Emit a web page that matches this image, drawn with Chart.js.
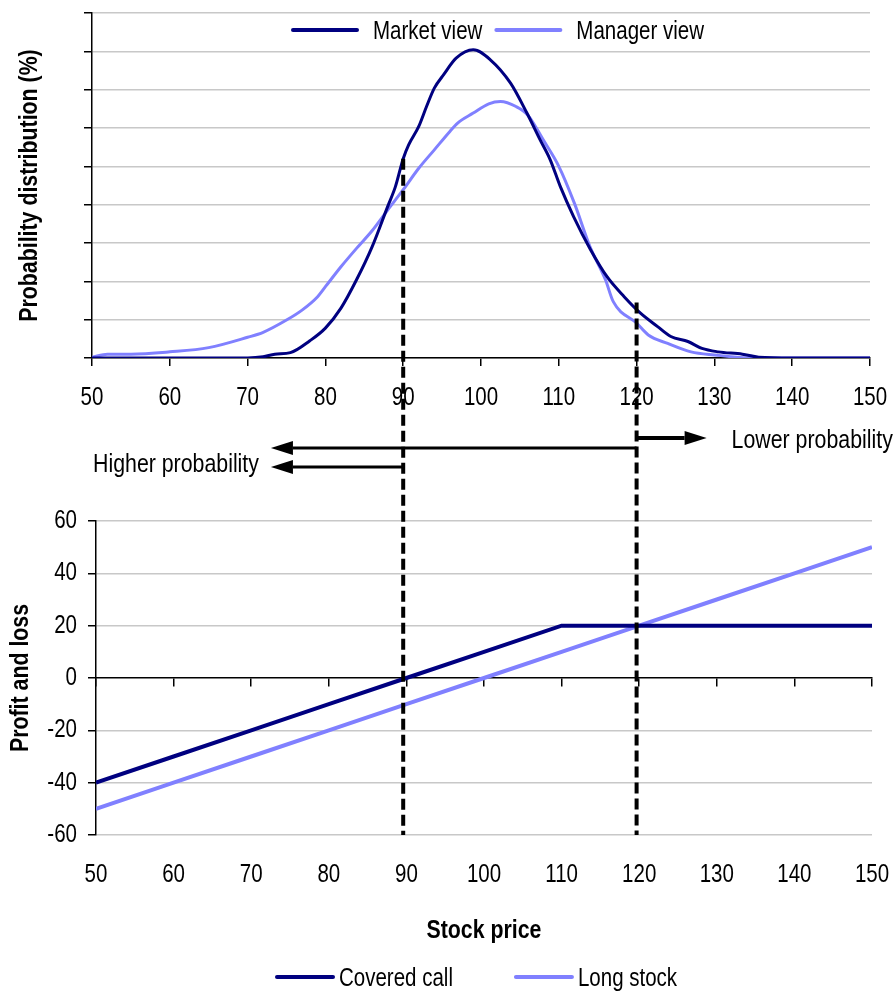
<!DOCTYPE html>
<html>
<head>
<meta charset="utf-8">
<script src="https://cdn.jsdelivr.net/npm/chart.js@4.4.0/dist/chart.umd.min.js"></script>
<style>
  body { margin: 0; background: #fff; }
  #wrap { position: relative; width: 893px; height: 991px; }
  canvas { position: absolute; left: 0; }
  #topChart { top: 0; }
  #bottomChart { top: 480px; }
  #overlay { top: 0; pointer-events: none; }
</style>
</head>
<body>
<div id="wrap">
  <canvas id="topChart" width="893" height="420"></canvas>
  <canvas id="bottomChart" width="893" height="511"></canvas>
  <canvas id="overlay" width="893" height="991"></canvas>
</div>
<script>
// probability distribution (top chart)
const marketPrice = [50, 70, 72, 73.5, 75.5, 78, 80, 82, 84, 86, 88, 89, 90, 90.7, 92, 93, 94, 95.2, 96.8, 99,
  101.2, 103.8, 105.9, 107.6, 108.9, 110.2, 111.9, 114.1, 116.2, 118.4, 120.5, 122.7, 124.4, 126.6, 128.4, 130.5, 133.6, 135.7, 140, 150];
const marketProb = [0, 0, 0.03, 0.1, 0.14, 0.45, 0.78, 1.3, 2.04, 2.9, 3.95, 4.47, 5.2, 5.56, 6.04, 6.56, 7.04, 7.39, 7.82, 8.04,
  7.78, 7.17, 6.39, 5.69, 5.17, 4.47, 3.69, 2.82, 2.12, 1.6, 1.17, 0.82, 0.56, 0.43, 0.25, 0.16, 0.1, 0.02, 0, 0];

const managerPrice = [50, 52, 55, 60, 65, 70, 72, 75, 77, 79, 80, 82, 84, 86, 88, 90, 92, 94, 96, 97,
  99, 101, 102.5, 104.5, 106, 108, 110, 112, 114, 116, 117, 120, 121.5, 124, 127, 130, 135, 150];
const managerProb = [0.02, 0.1, 0.1, 0.16, 0.27, 0.54, 0.67, 0.99, 1.25, 1.6, 1.86, 2.38, 2.86, 3.32, 3.86, 4.39, 4.95, 5.43, 5.91, 6.13,
  6.39, 6.63, 6.69, 6.56, 6.34, 5.69, 5.0, 4.04, 2.91, 2.04, 1.47, 0.91, 0.6, 0.38, 0.16, 0.08, 0, 0];

// payoff (bottom chart)
const stockPrice = [50, 60, 70, 80, 90, 100, 110, 120, 130, 140, 150];
const coveredCall = [-40, -30, -20, -10, 0, 10, 20, 20, 20, 20, 20];
const longStock = [-50, -40, -30, -20, -10, 0, 10, 20, 30, 40, 50];

// annotation anchors
const strikes = [90, 120];
const dashFrom = [5.2, 1.45];   // where the dashed lines start on the top chart
const arrowTips = { higher: 73, lower: 129 };

const SANS = '"Liberation Sans", Arial, sans-serif';
const NAVY = '#000080';
const LILAC = '#8080ff';
const K = 0.82; // the original uses a narrow face: squeeze text sideways

function condense(canvas) {
  const ctx = canvas.getContext('2d');
  const fill = ctx.fillText;
  ctx.fillText = function (text, x, y, maxWidth) {
    this.save();
    this.translate(x, y);
    this.scale(K, 1);
    if (maxWidth === undefined) fill.call(this, text, 0, 0);
    else fill.call(this, text, 0, 0, maxWidth / K);
    this.restore();
  };
  return ctx;
}

const toXY = (xs, ys) => xs.map((x, i) => ({ x: x, y: ys[i] }));

// legend drawn as a line sample + label, placed freely
const lineLegend = {
  id: 'lineLegend',
  afterDraw(chart, args, opts) {
    const ctx = chart.ctx;
    let x = opts.x;
    ctx.save();
    ctx.font = '25px ' + SANS;
    ctx.textBaseline = 'middle';
    chart.data.datasets.forEach(ds => {
      ctx.strokeStyle = ds.borderColor;
      ctx.lineWidth = 4;
      ctx.lineCap = 'round';
      ctx.beginPath();
      ctx.moveTo(x, opts.y);
      ctx.lineTo(x + opts.lineLen, opts.y);
      ctx.stroke();
      x += opts.lineLen + opts.textGap;
      ctx.fillStyle = '#000';
      ctx.fillText(ds.label, x, opts.y + 2);
      x += ctx.measureText(ds.label).width * K + opts.itemGap;
    });
    ctx.restore();
  }
};

const titleFont = { family: SANS, size: 26, weight: 'bold' };
const tickFont = { family: SANS, size: 25 };

const topCanvas = document.getElementById('topChart');
condense(topCanvas);
const topChart = new Chart(topCanvas, {
  type: 'line',
  data: {
    datasets: [
      { label: 'Market view', data: toXY(marketPrice, marketProb), borderColor: NAVY, backgroundColor: NAVY,
        borderWidth: 3, pointRadius: 0, cubicInterpolationMode: 'monotone', fill: false },
      { label: 'Manager view', data: toXY(managerPrice, managerProb), borderColor: LILAC, backgroundColor: LILAC,
        borderWidth: 3, pointRadius: 0, cubicInterpolationMode: 'monotone', fill: false }
    ]
  },
  plugins: [lineLegend],
  options: {
    responsive: false,
    animation: false,
    layout: { padding: { top: 13, right: 23, left: 0, bottom: 0 } },
    plugins: {
      legend: { display: false },
      tooltip: { enabled: false },
      lineLegend: { x: 293, y: 30, lineLen: 64, textGap: 16, itemGap: 14 }
    },
    scales: {
      x: {
        type: 'linear', min: 50, max: 150,
        ticks: { stepSize: 10, color: '#000', font: tickFont, padding: 17 },
        grid: { drawOnChartArea: false, tickLength: 8, tickColor: '#000', lineWidth: 1.5 },
        border: { color: '#000', width: 1.5 },
        afterFit: s => { s.height = 62; s.paddingLeft = 0; s.paddingRight = 0; }
      },
      y: {
        min: 0, max: 9,
        ticks: { stepSize: 1, display: false },
        grid: { color: '#c8c8c8', lineWidth: 1.5, tickLength: 8, tickColor: '#000' },
        border: { color: '#000', width: 1.5 },
        title: { display: true, text: 'Probability distribution (%)', color: '#000',
          font: titleFont, padding: { top: 14, bottom: 0 } },
        afterFit: s => { s.width = 92; s.paddingTop = 0; s.paddingBottom = 0; }
      }
    }
  }
});

const bottomCanvas = document.getElementById('bottomChart');
condense(bottomCanvas);
const bottomChart = new Chart(bottomCanvas, {
  type: 'line',
  data: {
    datasets: [
      { label: 'Covered call', data: toXY(stockPrice, coveredCall), borderColor: NAVY, backgroundColor: NAVY,
        borderWidth: 4, pointRadius: 0, tension: 0, fill: false },
      { label: 'Long stock', data: toXY(stockPrice, longStock), borderColor: LILAC, backgroundColor: LILAC,
        borderWidth: 4, pointRadius: 0, tension: 0, fill: false }
    ]
  },
  plugins: [lineLegend],
  options: {
    responsive: false,
    animation: false,
    layout: { padding: { top: 41, right: 21, left: 0, bottom: 0 } },
    plugins: {
      legend: { display: false },
      tooltip: { enabled: false },
      lineLegend: { x: 277, y: 497, lineLen: 56, textGap: 6, itemGap: 63 }
    },
    scales: {
      x: {
        type: 'linear', min: 50, max: 150,
        ticks: { stepSize: 10, color: '#000', font: tickFont, padding: 17 },
        grid: { display: false },
        border: { display: false },
        title: { display: true, text: 'Stock price', color: '#000',
          font: titleFont, padding: { top: 0, bottom: 45 } },
        afterFit: s => { s.height = 156; s.paddingLeft = 0; s.paddingRight = 0; }
      },
      x2: {
        type: 'linear', min: 50, max: 150, position: { y: 0 },
        ticks: { stepSize: 10, display: false },
        grid: { drawOnChartArea: false, tickLength: 8, tickColor: '#000', lineWidth: 1.5 },
        border: { color: '#000', width: 1.5 }
      },
      y: {
        min: -60, max: 60,
        ticks: { stepSize: 20, color: '#000', font: tickFont, padding: 11 },
        grid: { color: c => (c.tick && c.tick.value === 0 ? 'rgba(0,0,0,0)' : '#c8c8c8'),
          lineWidth: 1.5, tickLength: 8, tickColor: '#000' },
        border: { color: '#000', width: 1.5 },
        title: { display: true, text: 'Profit and loss', color: '#000',
          font: titleFont, padding: { top: 5, bottom: 0 } },
        afterFit: s => { s.width = 96; s.paddingTop = 0; s.paddingBottom = 0; }
      }
    }
  }
});

// dashed strike lines, arrows and their labels across both charts
(function drawOverlay() {
  const ctx = condense(document.getElementById('overlay'));
  const xs = topChart.scales.x, ys = topChart.scales.y;
  const yb = bottomChart.scales.y;
  const offB = 480;
  const yEnd = offB + yb.getPixelForValue(-60);

  ctx.save();
  ctx.strokeStyle = '#000';
  ctx.lineWidth = 4;
  ctx.setLineDash([11, 5]);
  strikes.forEach((p, i) => {
    const x = xs.getPixelForValue(p);
    ctx.beginPath();
    ctx.moveTo(x, ys.getPixelForValue(dashFrom[i]));
    ctx.lineTo(x, yEnd);
    ctx.stroke();
  });
  ctx.restore();

  function arrow(xFrom, xTo, y, w) {
    const dir = xTo < xFrom ? -1 : 1;
    const headLen = 22, headHalf = 7;
    ctx.save();
    ctx.strokeStyle = '#000';
    ctx.fillStyle = '#000';
    ctx.lineWidth = w;
    ctx.beginPath();
    ctx.moveTo(xFrom, y);
    ctx.lineTo(xTo - dir * headLen, y);
    ctx.stroke();
    ctx.beginPath();
    ctx.moveTo(xTo, y);
    ctx.lineTo(xTo - dir * headLen, y - headHalf);
    ctx.lineTo(xTo - dir * headLen, y + headHalf);
    ctx.closePath();
    ctx.fill();
    ctx.restore();
  }

  const x90 = xs.getPixelForValue(strikes[0]);
  const x120 = xs.getPixelForValue(strikes[1]);
  const xHi = xs.getPixelForValue(arrowTips.higher);
  const xLo = xs.getPixelForValue(arrowTips.lower);
  arrow(x120, xHi, 448, 3);
  arrow(x90, xHi, 467, 3);
  arrow(x120, xLo, 438, 4);

  ctx.fillStyle = '#000';
  ctx.font = '26px ' + SANS;
  ctx.textBaseline = 'middle';
  ctx.textAlign = 'right';
  ctx.fillText('Higher probability', xHi - 12, 465);
  ctx.textAlign = 'left';
  ctx.fillText('Lower probability', xLo + 25, 441);
})();
</script>
</body>
</html>
